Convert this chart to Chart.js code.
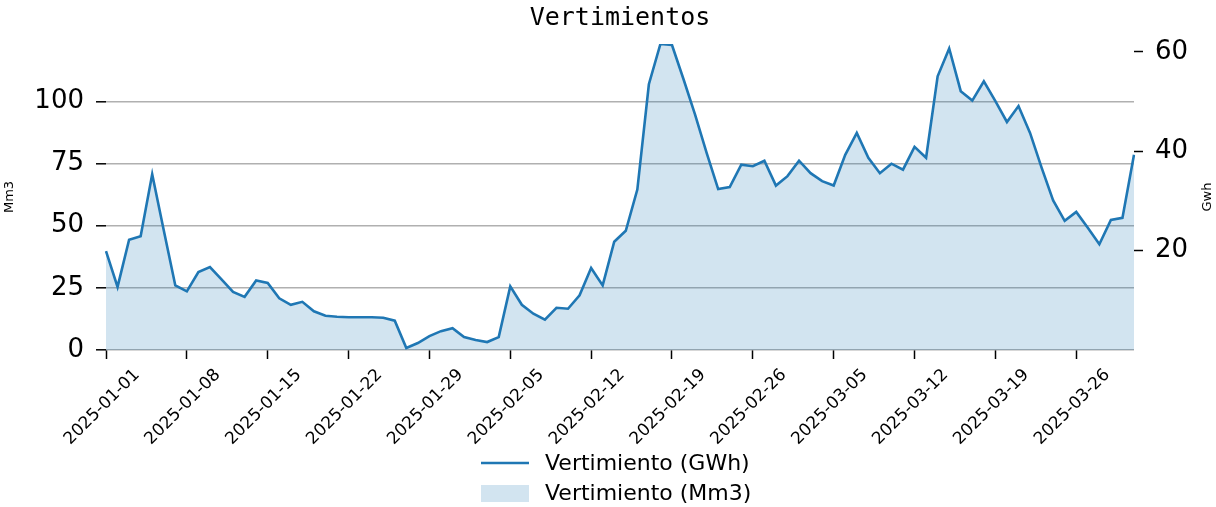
<!DOCTYPE html>
<html>
<head>
<meta charset="utf-8">
<script src="https://cdn.jsdelivr.net/npm/chart.js@4/dist/chart.umd.min.js"></script>
<style>
html,body{margin:0;padding:0;background:#fff;}
canvas{display:block;}
</style>
</head>
<body>
<canvas id="c" width="1216" height="507" style="width:1216px;height:507px"></canvas>
<script>
// ---- data ----
const startDate = '2025-01-01';
const dayCount = 90;
const tickStep = 7;
const seriesGWhLabel = 'Vertimiento (GWh)';
const seriesMm3Label = 'Vertimiento (Mm3)';
const leftAxisTitle = 'Mm3';
const rightAxisTitle = 'Gwh';

const vertimientoMm3 = [
  39.4, 25.1, 44.2, 45.5, 70.6, 48.0, 25.7, 23.3, 31.1, 33.0,
  28.0, 23.1, 21.0, 27.7, 26.7, 20.4, 17.9, 19.0, 15.2, 13.4,
  13.0, 12.8, 12.8, 12.8, 12.6, 11.5, 0.5, 2.5, 5.2, 7.2,
  8.5, 4.8, 3.6, 2.9, 4.9, 25.3, 17.9, 14.2, 11.9, 16.6,
  16.2, 21.6, 32.7, 25.6, 43.2, 47.6, 64.3, 106.7, 123.1, 122.7,
  108.7, 94.6, 79.1, 64.5, 65.3, 74.4, 73.7, 76.0, 66.0, 69.7,
  76.0, 71.0, 67.7, 66.0, 78.4, 87.2, 77.1, 71.0, 74.7, 72.4,
  81.5, 77.1, 110.0, 121.2, 104.0, 100.2, 108.0, 99.9, 91.5, 97.9,
  87.2, 73.1, 60.0, 51.8, 55.3, 48.9, 42.4, 52.2, 52.9, 78.4
];

const vertimientoGWh = [
  19.9, 12.7, 22.2, 22.9, 35.4, 24.1, 13.0, 11.8, 15.7, 16.7,
  14.2, 11.7, 10.7, 14.0, 13.5, 10.4, 9.1, 9.7, 7.8, 6.9,
  6.7, 6.6, 6.6, 6.6, 6.5, 5.9, 0.4, 1.4, 2.8, 3.8,
  4.4, 2.6, 2.0, 1.6, 2.6, 12.8, 9.1, 7.3, 6.1, 8.5,
  8.3, 11.0, 16.5, 13.0, 21.8, 24.0, 32.3, 53.5, 61.6, 61.4,
  54.5, 47.4, 39.7, 32.4, 32.8, 37.3, 37.0, 38.1, 33.1, 35.0,
  38.1, 35.6, 34.0, 33.1, 39.3, 43.7, 38.7, 35.6, 37.5, 36.3,
  40.9, 38.7, 55.1, 60.7, 52.1, 50.2, 54.1, 50.1, 45.9, 49.1,
  43.7, 36.7, 30.1, 26.0, 27.8, 24.6, 21.3, 26.2, 26.6, 39.3
];

const leftTicks = [0, 25, 50, 75, 100];
const rightTicks = [20, 40, 60];

// ---- category labels (dates) ----
const dates = [];
{
  const d0 = new Date(startDate + 'T00:00:00Z');
  for (let i = 0; i < dayCount; i++) {
    const d = new Date(d0.getTime() + i * 86400000);
    dates.push(d.toISOString().slice(0, 10));
  }
}

const BLUE = '#1f77b4';
const FILL = 'rgba(31,119,180,0.2)';
Chart.defaults.font.family = '"DejaVu Sans", sans-serif';
Chart.defaults.color = '#000';

const extraText = {
  id: 'extraText',
  afterDraw(chart) {
    const ctx = chart.ctx;
    const area = chart.chartArea;
    const midY = (area.top + area.bottom) / 2;
    ctx.save();
    ctx.fillStyle = '#000';
    ctx.font = '13px "DejaVu Sans"';
    ctx.textAlign = 'center';
    ctx.textBaseline = 'middle';
    // axis titles (read bottom-to-top)
    ctx.translate(10, midY);
    ctx.rotate(-Math.PI / 2);
    ctx.fillText(leftAxisTitle, 0, 0);
    ctx.restore();

    ctx.save();
    ctx.fillStyle = '#000';
    ctx.font = '13px "DejaVu Sans"';
    ctx.textAlign = 'center';
    ctx.textBaseline = 'middle';
    ctx.translate(1208, midY);
    ctx.rotate(-Math.PI / 2);
    ctx.fillText(rightAxisTitle, 0, 0);
    ctx.restore();

    // legend
    ctx.save();
    const lx = 481, lw = 48;
    ctx.strokeStyle = BLUE;
    ctx.lineWidth = 2.5;
    ctx.beginPath();
    ctx.moveTo(lx, 463);
    ctx.lineTo(lx + lw, 463);
    ctx.stroke();
    ctx.fillStyle = FILL;
    ctx.fillRect(lx, 485, lw, 17);
    ctx.fillStyle = '#000';
    ctx.font = '22px "DejaVu Sans"';
    ctx.textAlign = 'left';
    ctx.textBaseline = 'middle';
    ctx.fillText(chart.data.datasets[0].label, 545, 464);
    ctx.fillText(chart.data.datasets[1].label, 545, 494);
    ctx.restore();
  }
};

new Chart(document.getElementById('c'), {
  type: 'line',
  data: {
    labels: dates,
    datasets: [
      {
        label: seriesGWhLabel,
        data: vertimientoGWh,
        yAxisID: 'y1',
        borderColor: BLUE,
        borderWidth: 2.6,
        pointRadius: 0,
        tension: 0,
        fill: false
      },
      {
        label: seriesMm3Label,
        data: vertimientoMm3,
        yAxisID: 'y',
        borderWidth: 0,
        borderColor: 'rgba(0,0,0,0)',
        backgroundColor: FILL,
        pointRadius: 0,
        tension: 0,
        fill: 'origin'
      }
    ]
  },
  options: {
    responsive: false,
    animation: false,
    events: [],
    layout: { padding: { left: 24, right: 0, top: 0, bottom: 0 } },
    plugins: {
      legend: { display: false },
      tooltip: { enabled: false },
      title: {
        display: true,
        text: 'Vertimientos',
        color: '#000',
        font: { family: '"DejaVu Sans Mono", monospace', size: 25, weight: 'normal', lineHeight: 1.2 },
        padding: { top: 3, bottom: 11 }
      }
    },
    scales: {
      x: {
        type: 'category',
        offset: false,
        border: { display: false },
        grid: { display: true, drawOnChartArea: false, drawTicks: true, tickLength: 9, tickColor: '#000', tickWidth: 1.5 },
        ticks: { autoSkip: false, minRotation: 45, maxRotation: 45, font: { size: 17 }, color: '#000', labelOffset: 31, padding: 6 },
        afterBuildTicks: s => { s.ticks = s.ticks.filter(t => t.value % tickStep === 0); },
        afterFit: s => { s.height = 157; }
      },
      y: {
        position: 'left',
        min: 0,
        max: Math.max(...vertimientoMm3),
        border: { display: false },
        grid: { color: '#b0b0b0', lineWidth: 1.6, tickColor: '#000', tickLength: 10, tickWidth: 1.5 },
        ticks: { font: { size: 26 }, color: '#000', padding: 12 },
        afterBuildTicks: s => { s.ticks = leftTicks.map(v => ({ value: v })); },
        afterFit: s => { s.width = 82; }
      },
      y1: {
        position: 'right',
        min: 0,
        max: Math.max(...vertimientoGWh),
        border: { display: false },
        grid: { drawOnChartArea: false, tickColor: '#000', tickLength: 9, tickWidth: 1.5 },
        ticks: { font: { size: 26 }, color: '#000', padding: 12 },
        afterBuildTicks: s => { s.ticks = rightTicks.map(v => ({ value: v })); },
        afterFit: s => { s.width = 82; }
      }
    }
  },
  plugins: [extraText]
});
</script>
</body>
</html>
